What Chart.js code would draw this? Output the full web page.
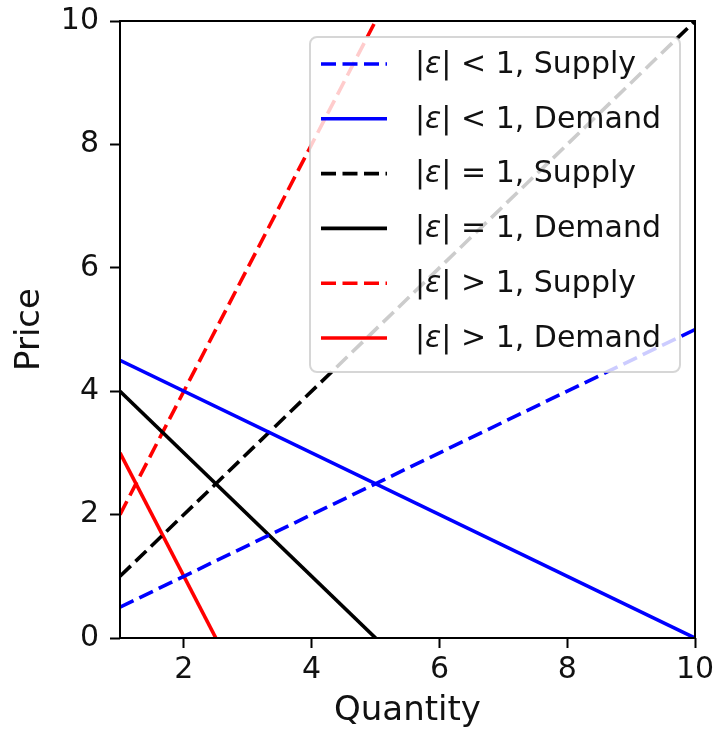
<!DOCTYPE html>
<html>
<head>
<meta charset="utf-8">
<script src="https://cdn.jsdelivr.net/npm/chart.js@4.4.0/dist/chart.umd.min.js"></script>
<style>
  html, body { margin: 0; padding: 0; background: #fff; }
  #wrap { width: 713px; height: 733px; }
</style>
</head>
<body>
<div id="wrap"><canvas id="elasticityChart" width="713" height="733"></canvas></div>
<script>
// data
const quantity = [1, 10];
const inelasticSupply = [0.5, 5];
const inelasticDemand = [4.5, 0];
const unitSupply = [1, 10];
const unitDemand = [4, -5];
const elasticSupply = [2, 20];
const elasticDemand = [3, -15];

const xTicks = [2, 4, 6, 8, 10];
const yTicks = [0, 2, 4, 6, 8, 10];

const labels = [
    '|ε| < 1, Supply', '|ε| < 1, Demand',
    '|ε| = 1, Supply', '|ε| = 1, Demand',
    '|ε| > 1, Supply', '|ε| > 1, Demand'
];
const colors = ['#0000ff', '#0000ff', '#000000', '#000000', '#ff0000', '#ff0000'];
const series = [inelasticSupply, inelasticDemand, unitSupply, unitDemand, elasticSupply, elasticDemand];

const DASH = [15, 6.5];
const LW = 3.6;
const FONT = '"DejaVu Sans", sans-serif';

const datasets = series.map((vals, i) => ({
    label: labels[i],
    data: quantity.map((q, j) => ({ x: q, y: vals[j] })),
    borderColor: colors[i],
    borderWidth: LW,
    borderDash: i % 2 === 0 ? DASH : [],
    pointRadius: 0,
    showLine: true,
    fill: false,
    clip: 0
}));

// matplotlib-like legend box inside the axes
const legendBox = {
    id: 'legendBox',
    afterDatasetsDraw(chart) {
        const ctx = chart.ctx;
        const a = chart.chartArea;
        const bx = a.right - 385, by = a.top + 16, bw = 370, bh = 335;
        ctx.save();
        ctx.beginPath();
        ctx.roundRect(bx, by, bw, bh, 7);
        ctx.fillStyle = 'rgba(255,255,255,0.8)';
        ctx.fill();
        ctx.strokeStyle = 'rgba(204,204,204,0.8)';
        ctx.lineWidth = 2;
        ctx.stroke();

        chart.data.datasets.forEach((ds, i) => {
            const y = by + 27 + i * 54.8;
            ctx.beginPath();
            ctx.setLineDash(ds.borderDash);
            ctx.strokeStyle = ds.borderColor;
            ctx.lineWidth = LW;
            ctx.moveTo(bx + 11, y);
            ctx.lineTo(bx + 77, y);
            ctx.stroke();
            ctx.setLineDash([]);

            const parts = ds.label.split('ε');
            let x = bx + 105;
            ctx.fillStyle = '#111';
            ctx.textBaseline = 'middle';
            ctx.font = '30px ' + FONT;
            ctx.fillText(parts[0], x, y + 1);
            x += ctx.measureText(parts[0]).width;
            ctx.font = 'italic 30px ' + FONT;
            ctx.fillText('ε', x, y + 1);
            x += ctx.measureText('ε').width;
            ctx.font = '30px ' + FONT;
            ctx.fillText(parts[1], x, y + 1);
        });
        ctx.restore();
    },
    afterDraw(chart) {
        const ctx = chart.ctx;
        const a = chart.chartArea;
        ctx.save();
        ctx.strokeStyle = '#000';
        ctx.lineWidth = 2;
        ctx.strokeRect(a.left, a.top, a.right - a.left, a.bottom - a.top);
        ctx.restore();
    }
};

const tickFont = { family: FONT, size: 30 };
const titleFont = { family: FONT, size: 34 };

new Chart(document.getElementById('elasticityChart').getContext('2d'), {
    type: 'scatter',
    data: { datasets: datasets },
    options: {
        responsive: false,
        animation: false,
        layout: { padding: { top: 21, right: 18, left: 0, bottom: 0 } },
        plugins: {
            legend: { display: false },
            tooltip: { enabled: false }
        },
        scales: {
            x: {
                type: 'linear',
                min: 1,
                max: 10,
                afterBuildTicks: s => { s.ticks = xTicks.map(v => ({ value: v })); },
                afterFit: s => { s.height = 95; s.paddingLeft = 0; s.paddingRight = 0; },
                grid: { drawOnChartArea: false, drawTicks: true, tickLength: 10, tickWidth: 2, tickColor: '#000' },
                border: { display: false },
                ticks: { font: tickFont, color: '#111', padding: 4, maxRotation: 0 },
                title: { display: true, text: 'Quantity', font: titleFont, color: '#111', padding: { top: 0, bottom: 1 } }
            },
            y: {
                type: 'linear',
                min: 0,
                max: 10,
                afterBuildTicks: s => { s.ticks = yTicks.map(v => ({ value: v })); },
                afterFit: s => { s.width = 120; s.paddingTop = 0; s.paddingBottom = 0; },
                grid: { drawOnChartArea: false, drawTicks: true, tickLength: 10, tickWidth: 2, tickColor: '#000' },
                border: { display: false },
                ticks: { font: tickFont, color: '#111', padding: 11 },
                title: { display: true, text: 'Price', font: titleFont, color: '#111', padding: { top: 10, bottom: 0 } }
            }
        }
    },
    plugins: [legendBox]
});
</script>
</body>
</html>
